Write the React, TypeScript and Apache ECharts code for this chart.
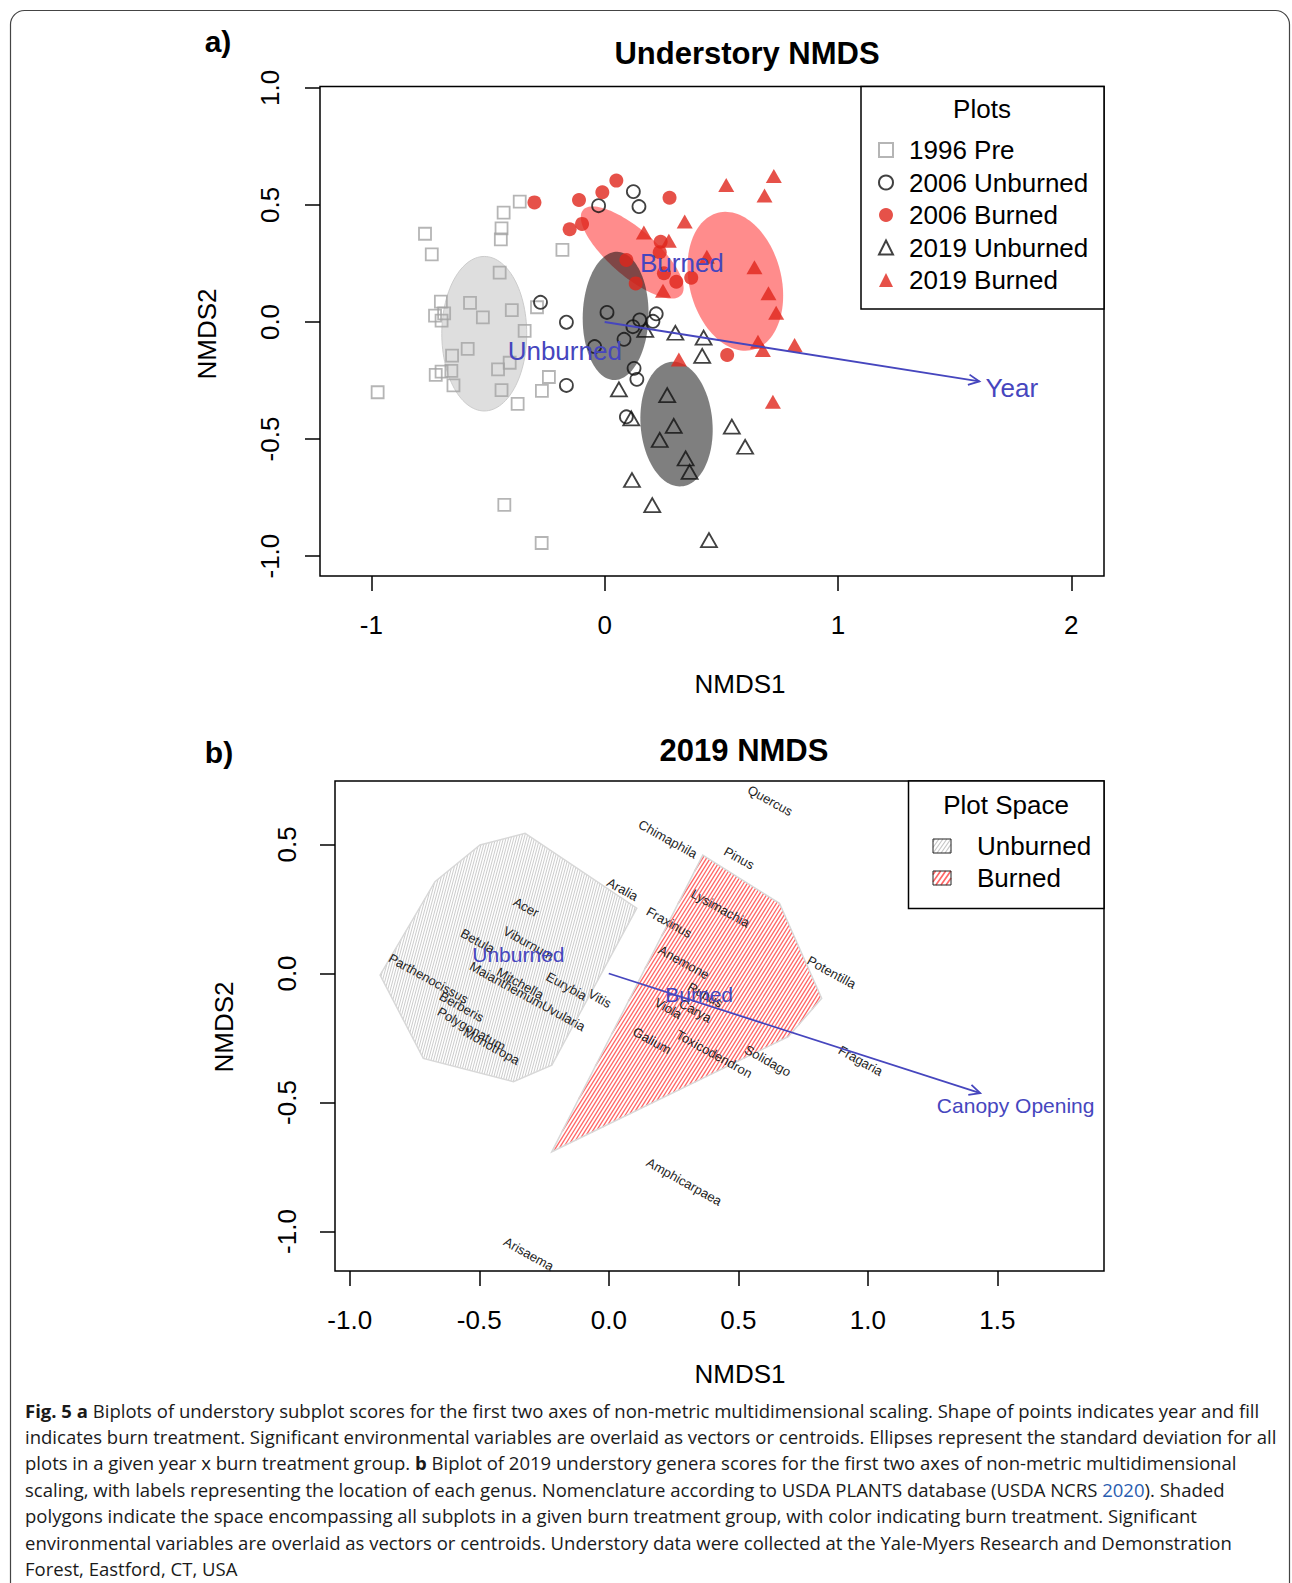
import React, { useEffect, useRef } from 'react';
import * as echarts from 'echarts';

const FONT = "'Liberation Sans', Arial, Helvetica, sans-serif";
const CAP_FONT = "'Open Sans', Lato, sans-serif";
const BLUE = '#4646be';
const RED = '#e0261b';

// ---------- Panel a: Understory NMDS (NMDS1, NMDS2 scores) ----------
const plotGroups = ['1996 Pre', '2006 Unburned', '2006 Burned', '2019 Unburned', '2019 Burned'];

const pre1996: number[][] = [
  [-0.364, 0.514], [-0.433, 0.467], [-0.442, 0.4], [-0.445, 0.353], [-0.77, 0.377],
  [-0.741, 0.289], [-0.181, 0.308], [-0.45, 0.211], [-0.702, 0.087], [-0.688, 0.037],
  [-0.727, 0.027], [-0.699, 0.006], [-0.577, 0.082], [-0.522, 0.02], [-0.398, 0.051],
  [-0.29, 0.063], [-0.343, -0.038], [-0.587, -0.115], [-0.654, -0.144], [-0.657, -0.209],
  [-0.724, -0.226], [-0.699, -0.212], [-0.648, -0.271], [-0.457, -0.202], [-0.407, -0.174],
  [-0.239, -0.235], [-0.269, -0.294], [-0.442, -0.291], [-0.973, -0.3], [-0.373, -0.35],
  [-0.43, -0.781], [-0.27, -0.944],
];
const unburned2006: number[][] = [
  [-0.275, 0.084], [-0.164, -0.001], [-0.164, -0.271], [0.123, 0.557], [0.147, 0.493],
  [-0.026, 0.497], [0.01, 0.041], [0.15, 0.009], [0.121, -0.02], [0.207, 0.003],
  [0.221, 0.035], [0.083, -0.074], [-0.043, -0.105], [0.126, -0.198], [0.138, -0.245],
  [0.093, -0.405],
];
const burned2006: number[][] = [
  [-0.301, 0.511], [-0.11, 0.521], [-0.097, 0.419], [-0.15, 0.396], [-0.01, 0.554],
  [0.05, 0.604], [0.278, 0.531], [0.093, 0.265], [0.133, 0.165], [0.24, 0.343],
  [0.236, 0.298], [0.254, 0.208], [0.307, 0.172], [0.371, 0.189], [0.525, -0.141],
];
const unburned2019: number[][] = [
  [0.174, -0.034], [0.303, -0.046], [0.424, -0.067], [0.418, -0.145], [0.061, -0.288],
  [0.268, -0.312], [0.114, -0.412], [0.296, -0.444], [0.236, -0.504], [0.545, -0.447],
  [0.602, -0.533], [0.347, -0.583], [0.364, -0.64], [0.117, -0.675], [0.204, -0.782],
  [0.447, -0.932],
];
const burned2019: number[][] = [
  [0.521, 0.585], [0.725, 0.624], [0.685, 0.54], [0.343, 0.429], [0.168, 0.382],
  [0.275, 0.347], [0.438, 0.279], [0.642, 0.234], [0.702, 0.123], [0.735, 0.04],
  [0.25, 0.134], [0.657, -0.084], [0.678, -0.12], [0.814, -0.098], [0.318, -0.16],
  [0.721, -0.341],
];

// standard-deviation ellipses: [centre x, centre y, semi-major, semi-minor, angle deg]
const ellipseParams: number[][] = [
  [-0.516, -0.05, 0.33, 0.182, 90],    // 1996 Pre
  [0.118, 0.297, 0.278, 0.1, -40.8],   // 2006 Burned
  [0.56, 0.174, 0.302, 0.197, 104.3],  // 2019 Burned
  [0.047, 0.026, 0.274, 0.141, 88.5],  // 2006 Unburned
  [0.308, -0.436, 0.267, 0.154, 94.6], // 2019 Unburned
];
const ellipseFills = ['#dedede', 'rgba(255,0,0,0.45)', 'rgba(255,0,0,0.45)', 'rgba(0,0,0,0.5)', 'rgba(0,0,0,0.5)'];
const ellipseStrokes = ['#cccccc', 'rgba(0,0,0,0)', 'rgba(0,0,0,0)', 'rgba(0,0,0,0)', 'rgba(0,0,0,0)'];

const yearVector: number[] = [0, 0, 1.606, -0.254];
const yearLabel = { name: 'Year', x: 1.745, y: -0.28 };
const centroidNamesA = ['Unburned', 'Burned'];
const centroidXA = [-0.171, 0.331];
const centroidYA = [-0.125, 0.25];

const xTicksA = [-1, 0, 1, 2];
const yTicksA = [-1, -0.5, 0, 0.5, 1];

// ---------- Panel b: 2019 NMDS genera scores ----------
const speciesNames = [
  'Quercus', 'Chimaphila', 'Pinus', 'Aralia', 'Lysimachia', 'Fraxinus', 'Acer', 'Viburnum',
  'Betula', 'Anemone', 'Potentilla', 'Parthenocissus', 'Maianthemum', 'Mitchella', 'Eurybia',
  'Vitis', 'Rubus', 'Carya', 'Viola', 'Uvularia', 'Berberis', 'Polygonatum', 'Monotropa',
  'Galium', 'Toxicodendron', 'Solidago', 'Fragaria', 'Amphicarpaea', 'Arisaema',
];
const speciesX = [
  0.623, 0.228, 0.503, 0.053, 0.431, 0.233, -0.319, -0.31,
  -0.506, 0.29, 0.86, -0.696, -0.394, -0.342, -0.163,
  -0.035, 0.372, 0.334, 0.23, -0.175, -0.568, -0.53, -0.452,
  0.167, 0.407, 0.614, 0.972, 0.291, -0.309,
];
const speciesY = [
  0.67, 0.521, 0.447, 0.326, 0.253, 0.198, 0.257, 0.117,
  0.126, 0.043, 0.005, -0.02, -0.045, -0.038, -0.049,
  -0.097, -0.083, -0.144, -0.135, -0.165, -0.129, -0.215, -0.282,
  -0.26, -0.312, -0.338, -0.338, -0.807, -1.087,
];

const hullNames = ['Unburned', 'Burned'];
const unburnedHull: number[][] = [
  [-0.883, -0.006], [-0.671, 0.356], [-0.497, 0.498], [-0.323, 0.543],
  [0.108, 0.253], [-0.22, -0.355], [-0.368, -0.419], [-0.716, -0.329],
];
const burnedHull: number[][] = [
  [0.363, 0.459], [0.659, 0.272], [0.822, -0.096], [0.693, -0.245], [-0.22, -0.691],
];
const canopyVector: number[] = [0, 0, 1.434, -0.464];
const canopyLabel = { name: 'Canopy Opening', x: 1.571, y: -0.511 };
const centroidNamesB = ['Unburned', 'Burned'];
const centroidXB = [-0.349, 0.349];
const centroidYB = [0.072, -0.081];

const xTicksB = [-1, -0.5, 0, 0.5, 1, 1.5];
const yTicksB = [-1, -0.5, 0, 0.5];

const captionLines = [
  '{b|Fig. 5 a} Biplots of understory subplot scores for the first two axes of non-metric multidimensional scaling. Shape of points indicates year and fill',
  'indicates burn treatment. Significant environmental variables are overlaid as vectors or centroids. Ellipses represent the standard deviation for all',
  'plots in a given year x burn treatment group. {b|b} Biplot of 2019 understory genera scores for the first two axes of non-metric multidimensional',
  'scaling, with labels representing the location of each genus. Nomenclature according to USDA PLANTS database (USDA NCRS {l|2020}). Shaded',
  'polygons indicate the space encompassing all subplots in a given burn treatment group, with color indicating burn treatment. Significant',
  'environmental variables are overlaid as vectors or centroids. Understory data were collected at the Yale-Myers Research and Demonstration',
  'Forest, Eastford, CT, USA',
];

// ---------- helpers ----------
function hatchLines(pts: number[][], angleDeg: number, spacing: number): number[][][] {
  const phi = (angleDeg * Math.PI) / 180;
  const nx = Math.sin(phi);
  const ny = Math.cos(phi);
  const s = pts.map((p) => p[0] * nx + p[1] * ny);
  const smin = Math.min(...s);
  const smax = Math.max(...s);
  const segs: number[][][] = [];
  for (let c = smin + spacing / 2; c < smax; c += spacing) {
    const hits: number[][] = [];
    for (let i = 0; i < pts.length; i++) {
      const j = (i + 1) % pts.length;
      const sa = s[i];
      const sb = s[j];
      if ((sa - c) * (sb - c) < 0) {
        const t = (c - sa) / (sb - sa);
        hits.push([pts[i][0] + t * (pts[j][0] - pts[i][0]), pts[i][1] + t * (pts[j][1] - pts[i][1])]);
      }
    }
    if (hits.length >= 2) segs.push([hits[0], hits[1]]);
  }
  return segs;
}

const hatchStyles = [
  { angle: 75, spacing: 2.5, color: '#c6c6c6', width: 0.9 },
  { angle: 58, spacing: 3.2, color: '#ff6666', width: 1.3 },
];

function txt(text: string, x: number, y: number, size: number, opts: any = {}) {
  return {
    type: 'text',
    x,
    y,
    rotation: opts.rotation || 0,
    silent: true,
    z: 10,
    style: {
      text,
      fill: opts.color || '#000',
      fontSize: size,
      fontFamily: opts.family || FONT,
      fontWeight: opts.bold ? 'bold' : 'normal',
      textAlign: opts.align || 'center',
      textVerticalAlign: 'middle',
      align: opts.align || 'center',
      verticalAlign: 'middle',
      rich: opts.rich,
    },
  };
}

function axisPair(gridIndex: number, xmin: number, xmax: number, ymin: number, ymax: number,
  xt: number[], yt: number[], xFmt: (v: number) => string, yFmt: (v: number) => string,
  xMargin: number, yMargin: number) {
  const tick = { show: true, inside: false, length: 15, lineStyle: { color: '#000', width: 1.5 } };
  const lbl = { show: true, fontSize: 26, color: '#000', fontFamily: FONT };
  return {
    x: {
      type: 'value', gridIndex, min: xmin, max: xmax,
      axisLine: { show: false, onZero: false },
      splitLine: { show: false },
      axisTick: { ...tick, customValues: xt },
      axisLabel: { ...lbl, customValues: xt, margin: xMargin, formatter: xFmt },
    },
    y: {
      type: 'value', gridIndex, min: ymin, max: ymax,
      axisLine: { show: false, onZero: false },
      splitLine: { show: false },
      axisTick: { ...tick, customValues: yt },
      axisLabel: { ...lbl, customValues: yt, margin: yMargin, rotate: 90, formatter: yFmt },
    },
  };
}

function textSeries(xi: number, names: string[], xs: number[], ys: number[], size: number,
  color: string, rotDeg: number, z: number) {
  return {
    type: 'custom', xAxisIndex: xi, yAxisIndex: xi, silent: true, z,
    data: xs.map((x, i) => [x, ys[i]]),
    renderItem: (params: any, api: any) => {
      const p = api.coord([api.value(0), api.value(1)]);
      return {
        type: 'text', x: p[0], y: p[1], rotation: (rotDeg * Math.PI) / 180,
        style: {
          text: names[params.dataIndex], fill: color, fontSize: size, fontFamily: FONT,
          textAlign: 'center', textVerticalAlign: 'middle', align: 'center', verticalAlign: 'middle',
        },
      };
    },
  };
}

function arrowSeries(xi: number, vec: number[]) {
  return {
    type: 'custom', xAxisIndex: xi, yAxisIndex: xi, silent: true, z: 6,
    data: [vec],
    renderItem: (params: any, api: any) => {
      const p0 = api.coord([api.value(0), api.value(1)]);
      const p1 = api.coord([api.value(2), api.value(3)]);
      const ang = Math.atan2(p1[1] - p0[1], p1[0] - p0[0]);
      const L = 12;
      const w = Math.PI / 7;
      const h1 = [p1[0] - L * Math.cos(ang - w), p1[1] - L * Math.sin(ang - w)];
      const h2 = [p1[0] - L * Math.cos(ang + w), p1[1] - L * Math.sin(ang + w)];
      return {
        type: 'group',
        children: [
          { type: 'line', shape: { x1: p0[0], y1: p0[1], x2: p1[0], y2: p1[1] }, style: { stroke: BLUE, lineWidth: 1.8 } },
          { type: 'polyline', shape: { points: [h1, p1, h2] }, style: { stroke: BLUE, lineWidth: 1.8, fill: null } },
        ],
      };
    },
  };
}

function legendIcon(x: number, y: number, w: number, h: number, hs: { angle: number; spacing: number; color: string; width: number }) {
  const pts = [[x, y], [x + w, y], [x + w, y + h], [x, y + h]];
  const segs = hatchLines(pts, 55, hs.spacing * 1.3);
  const children: any[] = segs.map((s) => ({
    type: 'line', silent: true, z: 10,
    shape: { x1: s[0][0], y1: s[0][1], x2: s[1][0], y2: s[1][1] },
    style: { stroke: hs.color, lineWidth: hs.width * 1.3 },
  }));
  children.push({ type: 'rect', silent: true, z: 11, shape: { x, y, width: w, height: h }, style: { fill: 'rgba(0,0,0,0)', stroke: '#222', lineWidth: 1 } });
  return children;
}

function fitCaptionSize(): number {
  try {
    const c = document.createElement('canvas');
    const ctx = c.getContext('2d');
    if (!ctx) return 18;
    const plain = captionLines[0].replace(/\{[a-z]\|([^}]*)\}/g, '$1');
    ctx.font = `100px ${CAP_FONT}`;
    const w = ctx.measureText(plain).width;
    if (!w) return 18;
    const size = (100 * 1232) / w;
    return Math.max(15, Math.min(20, size));
  } catch (e) {
    return 18;
  }
}

export default function App() {
  const ref = useRef<HTMLDivElement>(null);

  useEffect(() => {
    document.body.style.margin = '0';
    if (!ref.current) return;
    const chart = echarts.init(ref.current, undefined, { renderer: 'svg' });

    const a = axisPair(0, -1.22, 2.14, -1.085, 1.006, xTicksA, yTicksA,
      (v) => String(v), (v) => v.toFixed(1), 36, 37);
    const b = axisPair(1, -1.057, 1.912, -1.153, 0.746, xTicksB, yTicksB,
      (v) => v.toFixed(1), (v) => v.toFixed(1), 36, 35);

    const scatterBase = { type: 'scatter', xAxisIndex: 0, yAxisIndex: 0, z: 4, silent: true };
    const hullData = [unburnedHull, burnedHull];

    const graphics: any[] = [
      { type: 'rect', silent: true, z: 0, shape: { x: 10.5, y: 10.5, width: 1279, height: 1640, r: 14 }, style: { fill: 'rgba(0,0,0,0)', stroke: '#444', lineWidth: 1.2 } },
      txt('a)', 218, 41, 30, { bold: true }),
      txt('Understory NMDS', 747, 53, 31, { bold: true }),
      txt('NMDS1', 740, 684, 26),
      txt('NMDS2', 207, 334, 26, { rotation: Math.PI / 2 }),
      txt('b)', 219, 752, 30, { bold: true }),
      txt('2019 NMDS', 744, 750, 31, { bold: true }),
      txt('NMDS1', 740, 1374, 26),
      txt('NMDS2', 224, 1027, 26, { rotation: Math.PI / 2 }),
      // legend a box and title
      { type: 'rect', silent: true, z: 9, shape: { x: 861, y: 86.5, width: 243, height: 222.5 }, style: { fill: '#fff', stroke: '#000', lineWidth: 1.5 } },
      txt('Plots', 982, 109, 26),
      // legend b
      { type: 'rect', silent: true, z: 9, shape: { x: 908.5, y: 781, width: 195.5, height: 127.5 }, style: { fill: '#fff', stroke: '#000', lineWidth: 1.5 } },
      txt('Plot Space', 1006, 805, 26),
      ...legendIcon(933, 839, 18, 14, hatchStyles[0]),
      ...legendIcon(933, 871, 18, 14, hatchStyles[1]),
      txt(hullNames[0], 977, 846, 26, { align: 'left' }),
      txt(hullNames[1], 977, 878, 26, { align: 'left' }),
    ];

    const capSize = fitCaptionSize();
    const capRich = {
      b: { fontWeight: 'bold', fontSize: capSize, fontFamily: CAP_FONT, fill: '#1a1a1a', color: '#1a1a1a' },
      l: { fontSize: capSize, fontFamily: CAP_FONT, fill: '#2a5db0', color: '#2a5db0' },
    };
    captionLines.forEach((line, i) => {
      graphics.push(txt(line, 25, 1410 + i * 26.4, capSize, { align: 'left', family: CAP_FONT, color: '#1a1a1a', rich: capRich }));
    });

    const option: any = {
      animation: false,
      backgroundColor: '#fff',
      grid: [
        { left: 320, top: 86.5, width: 784, height: 489.5, show: true, borderColor: '#000', borderWidth: 1.5, backgroundColor: 'rgba(0,0,0,0)', containLabel: false },
        { left: 335, top: 781, width: 769, height: 490, show: true, borderColor: '#000', borderWidth: 1.5, backgroundColor: 'rgba(0,0,0,0)', containLabel: false },
      ],
      xAxis: [a.x, b.x],
      yAxis: [a.y, b.y],
      legend: {
        data: plotGroups,
        orient: 'vertical',
        left: 878,
        top: 134,
        padding: 0,
        itemGap: 0.5,
        itemWidth: 14,
        itemHeight: 14,
        symbolKeepAspect: true,
        selectedMode: false,
        z: 12,
        textStyle: { fontSize: 26, fontFamily: FONT, color: '#000', lineHeight: 32, padding: [0, 0, 0, 11] },
      },
      graphic: graphics,
      series: [
        {
          type: 'custom', xAxisIndex: 0, yAxisIndex: 0, silent: true, z: 2,
          data: ellipseParams,
          renderItem: (params: any, api: any) => {
            const cx = api.value(0), cy = api.value(1), ea = api.value(2), eb = api.value(3);
            const th = (api.value(4) * Math.PI) / 180;
            const pts: number[][] = [];
            for (let k = 0; k < 120; k++) {
              const t = (k / 120) * Math.PI * 2;
              const x = cx + ea * Math.cos(t) * Math.cos(th) - eb * Math.sin(t) * Math.sin(th);
              const y = cy + ea * Math.cos(t) * Math.sin(th) + eb * Math.sin(t) * Math.cos(th);
              pts.push(api.coord([x, y]));
            }
            return {
              type: 'polygon', shape: { points: pts },
              style: { fill: ellipseFills[params.dataIndex], stroke: ellipseStrokes[params.dataIndex], lineWidth: 1 },
            };
          },
        },
        { ...scatterBase, name: plotGroups[0], data: pre1996, symbol: 'rect', symbolSize: 12, itemStyle: { color: 'rgba(255,255,255,0)', borderColor: '#a3a3a3', borderWidth: 1.8 } },
        { ...scatterBase, name: plotGroups[1], data: unburned2006, symbol: 'circle', symbolSize: 13, itemStyle: { color: 'rgba(255,255,255,0)', borderColor: '#111', borderWidth: 1.8 } },
        { ...scatterBase, name: plotGroups[2], data: burned2006, symbol: 'circle', symbolSize: 14, itemStyle: { color: RED, borderColor: RED, borderWidth: 0 } },
        { ...scatterBase, name: plotGroups[3], data: unburned2019, symbol: 'triangle', symbolSize: [16, 14], itemStyle: { color: 'rgba(255,255,255,0)', borderColor: '#111', borderWidth: 1.8 } },
        { ...scatterBase, name: plotGroups[4], data: burned2019, symbol: 'triangle', symbolSize: [16, 14], itemStyle: { color: RED, borderColor: RED, borderWidth: 0 } },
        arrowSeries(0, yearVector),
        textSeries(0, [yearLabel.name], [yearLabel.x], [yearLabel.y], 26, BLUE, 0, 7),
        textSeries(0, centroidNamesA, centroidXA, centroidYA, 26, BLUE, 0, 7),
        // panel b
        {
          type: 'custom', xAxisIndex: 1, yAxisIndex: 1, silent: true, z: 2,
          data: hullData.map((h) => h[0]),
          renderItem: (params: any, api: any) => {
            const i = params.dataIndex;
            const pts = hullData[i].map((v) => api.coord(v));
            const hs = hatchStyles[i];
            const segs = hatchLines(pts, hs.angle, hs.spacing);
            const children: any[] = segs.map((s) => ({
              type: 'line', shape: { x1: s[0][0], y1: s[0][1], x2: s[1][0], y2: s[1][1] },
              style: { stroke: hs.color, lineWidth: hs.width },
            }));
            children.push({ type: 'polygon', shape: { points: pts }, style: { fill: 'rgba(0,0,0,0)', stroke: '#d8d8d8', lineWidth: 1.5 } });
            return { type: 'group', children };
          },
        },
        textSeries(1, speciesNames, speciesX, speciesY, 13, '#1e1e1e', -29, 5),
        arrowSeries(1, canopyVector),
        textSeries(1, [canopyLabel.name], [canopyLabel.x], [canopyLabel.y], 21, BLUE, 0, 7),
        textSeries(1, centroidNamesB, centroidXB, centroidYB, 21, BLUE, 0, 7),
      ],
    };

    chart.setOption(option);
    return () => chart.dispose();
  }, []);

  return <div ref={ref} style={{ width: 1292, height: 1583 }} />;
}
